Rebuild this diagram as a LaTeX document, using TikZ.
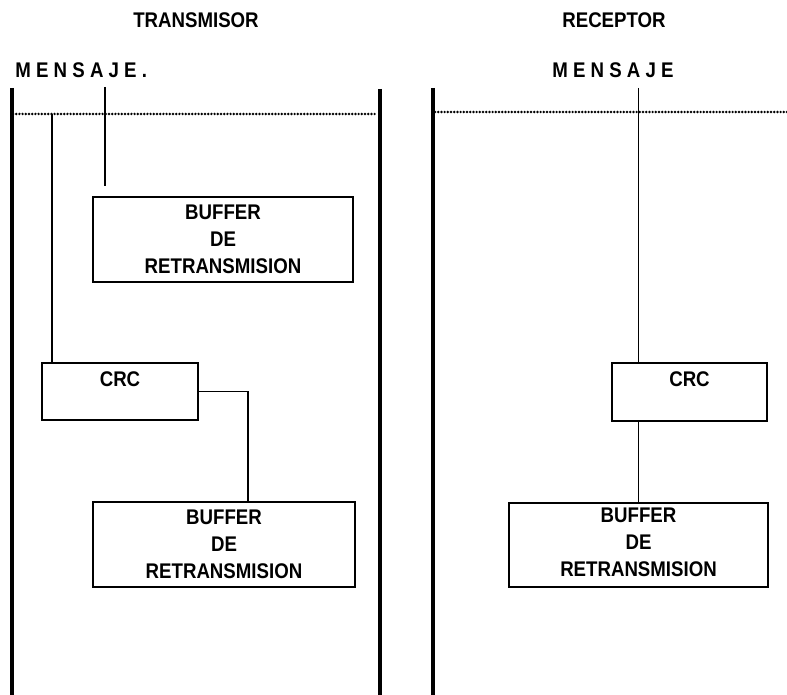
\documentclass[tikz,border=0pt]{standalone}
\usepackage{fontspec}
\setmainfont{Liberation Sans}
\newfontfamily\labelfont{Liberation Sans}[FakeStretch=0.88]
\usepackage{tikz}
\usetikzlibrary{calc,positioning}

\begin{document}
\begin{tikzpicture}[
    x=0.5pt,
    y=-0.5pt,
    block/.style={
        draw,
        rectangle,
        line width=1.4pt,
        inner sep=0pt
    },
    txt/.style={
        font=\labelfont\bfseries\fontsize{10.6}{13.6}\selectfont,
        align=center,
        inner sep=0pt
    },
    wall/.style={
        line width=2.2pt
    },
    link/.style={
        line width=0.65pt
    },
    bus/.style={
        line width=1.35pt,
        line cap=round,
        dash pattern=on 0pt off 1.6pt
    }
]
\useasboundingbox (0,0) rectangle (787,695);

% Titles
\node[txt] at (196,20)  (ttx) {TRANSMISOR};
\node[txt] at (614,20)  (trx) {RECEPTOR};
\node[txt, anchor=base west] at (15,78)  (msgT) {M E N S A J E .};
\node[txt, anchor=base] at (613,78) (msgR) {M E N S A J E};

% Walls and message lines
\draw[wall] (12,88)  -- (12,695);
\draw[wall] (380,89) -- (380,695);
\draw[wall] (433,88) -- (433,695);
\coordinate (busTl) at (13,114);
\coordinate (busTr) at (377,114);
\coordinate (busRl) at (435,112);
\coordinate (busRr) at (787,112);
\draw[bus] (busTl) -- (busTr);
\draw[bus] (busRl) -- (busRr);

% Transmitter blocks
\node[block, minimum width=130pt, minimum height=42.5pt] at (223,239.5) (bufT1) {};
\node[txt, anchor=north] at ([yshift=-4.5pt]bufT1.north) (bufT1txt) {BUFFER\\DE\\RETRANSMISION};
\node[block, minimum width=78pt, minimum height=28.5pt] at (120,391.5) (crcT) {};
\node[txt, anchor=north] at ([yshift=-5pt]crcT.north) (crcTtxt) {CRC};
\node[block, minimum width=131pt, minimum height=42.5pt] at (224,544.5) (bufT2) {};
\node[txt, anchor=north] at ([yshift=-4.5pt]bufT2.north) (bufT2txt) {BUFFER\\DE\\RETRANSMISION};

% Receiver blocks
\node[block, minimum width=77.5pt, minimum height=29pt] at (689.5,392) (crcR) {};
\node[txt, anchor=north] at ([yshift=-5pt]crcR.north) (crcRtxt) {CRC};
\node[block, minimum width=129.5pt, minimum height=42pt] at (638.5,545) (bufR) {};
\node[txt, anchor=north] at ([yshift=-3pt]bufR.north) (bufRtxt) {BUFFER\\DE\\RETRANSMISION};

% Connectors - transmitter
\coordinate (tapMsg) at (105,87);
\coordinate (tapBus) at (52,114);
\coordinate (bend)   at (248,391.5);
\draw[link] (tapMsg) -- ([yshift=5pt]tapMsg |- bufT1.north);
\draw[link] (tapBus) -- (tapBus |- crcT.north);
\draw[link] (crcT.east) -- (bend) -- (bend |- bufT2.north);

% Connectors - receiver
\coordinate (tapRx) at (638.5,88);
\draw[link] (tapRx) -- (tapRx |- crcR.north);
\draw[link] (bufR.north |- crcR.south) -- (bufR.north);

\end{tikzpicture}
\end{document}
